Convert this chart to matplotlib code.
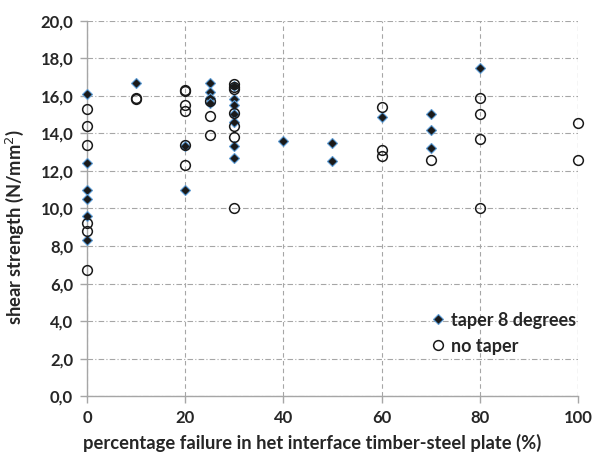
import matplotlib
matplotlib.use("Agg")
import matplotlib.pyplot as plt
from matplotlib.ticker import FuncFormatter

plt.rcParams['font.family'] = ['Lato', 'DejaVu Sans']

# taper 8 degrees
taper_x = [0, 0, 0, 0, 0, 0,
           10,
           20, 20,
           25, 25, 25, 25,
           30, 30, 30, 30, 30, 30, 30,
           40,
           50, 50,
           60,
           70, 70, 70,
           80]
taper_y = [16.1, 12.4, 11.0, 10.5, 9.6, 8.3,
           16.7,
           13.3, 11.0,
           16.7, 16.2, 15.9, 15.6,
           16.5, 15.8, 15.5, 15.0, 14.6, 13.3, 12.7,
           13.6,
           13.5, 12.5,
           14.85,
           15.0, 14.2, 13.2,
           17.5]

# no taper
notaper_x = [0, 0, 0, 0, 0, 0,
             10, 10,
             20, 20, 20, 20, 20, 20,
             25, 25, 25,
             30, 30, 30, 30, 30, 30, 30,
             60, 60, 60,
             70,
             80, 80, 80, 80,
             100, 100]
notaper_y = [15.3, 14.4, 13.4, 9.2, 8.8, 6.7,
             15.9, 15.8,
             16.3, 16.25, 15.5, 15.2, 13.35, 12.3,
             15.7, 14.9, 13.9,
             16.6, 16.45, 16.35, 15.1, 14.4, 13.8, 10.0,
             15.4, 13.1, 12.8,
             12.6,
             15.9, 15.0, 13.7, 10.0,
             14.55, 12.6]

fig = plt.figure(figsize=(5.94, 4.59), dpi=100)
ax = fig.add_axes([0.1465, 0.1364, 0.8265, 0.8189])

ax.plot(taper_x, taper_y, linestyle='none', marker='D', markersize=5.5,
        markerfacecolor='#1a1a1a', markeredgecolor='#5b9bd5', markeredgewidth=0.8,
        label='taper 8 degrees', zorder=3, clip_on=False)
ax.plot(notaper_x, notaper_y, linestyle='none', marker='o', markersize=7,
        markerfacecolor='none', markeredgecolor='#1a1a1a', markeredgewidth=1.1,
        label='no taper', zorder=4, clip_on=False)

ax.set_xlim(0, 100)
ax.set_ylim(0, 20)
ax.set_xticks(range(0, 101, 20))
ax.set_yticks(range(0, 21, 2))
ax.yaxis.set_major_formatter(FuncFormatter(lambda v, p: f"{v:.1f}".replace('.', ',')))

ax.grid(axis='y', color='#a6a6a6', linestyle=(0, (5, 2, 1, 2)), linewidth=0.8)
ax.grid(axis='x', color='#a6a6a6', linestyle=(0, (4, 3)), linewidth=0.8)
ax.set_axisbelow(True)
# right edge gridline at x=100
ax.axvline(100, color='#a6a6a6', linestyle=(0, (4, 3)), linewidth=0.8, zorder=0)

for s in ['top', 'right']:
    ax.spines[s].set_visible(False)
for s in ['left', 'bottom']:
    ax.spines[s].set_color('#a6a6a6')
    ax.spines[s].set_linewidth(1.0)
ax.tick_params(axis='both', colors='#a6a6a6', length=5, width=1.0,
               labelcolor='#262626', labelsize=12)
for lab in ax.get_xticklabels() + ax.get_yticklabels():
    lab.set_fontweight('bold')
ax.tick_params(axis='y', pad=5)
ax.tick_params(axis='x', pad=5)

ax.set_xlabel('percentage failure in het interface timber-steel plate (%)',
              fontsize=13.2, fontweight='bold', color='#262626')
ax.set_ylabel('shear strength (N/mm$^2$)', fontsize=13.2, fontweight='bold',
              color='#262626')
ax.xaxis.set_label_coords(0.458, -0.101)
ax.yaxis.set_label_coords(-0.125, 0.45)

leg = ax.legend(loc='upper left', bbox_to_anchor=(0.68, 0.245), frameon=False,
                prop={'weight': 'bold', 'size': 13}, handletextpad=0.15,
                labelspacing=0.5, handlelength=1.1, borderaxespad=0)
for t in leg.get_texts():
    t.set_color('#262626')

fig.savefig('out.png', dpi=100)
